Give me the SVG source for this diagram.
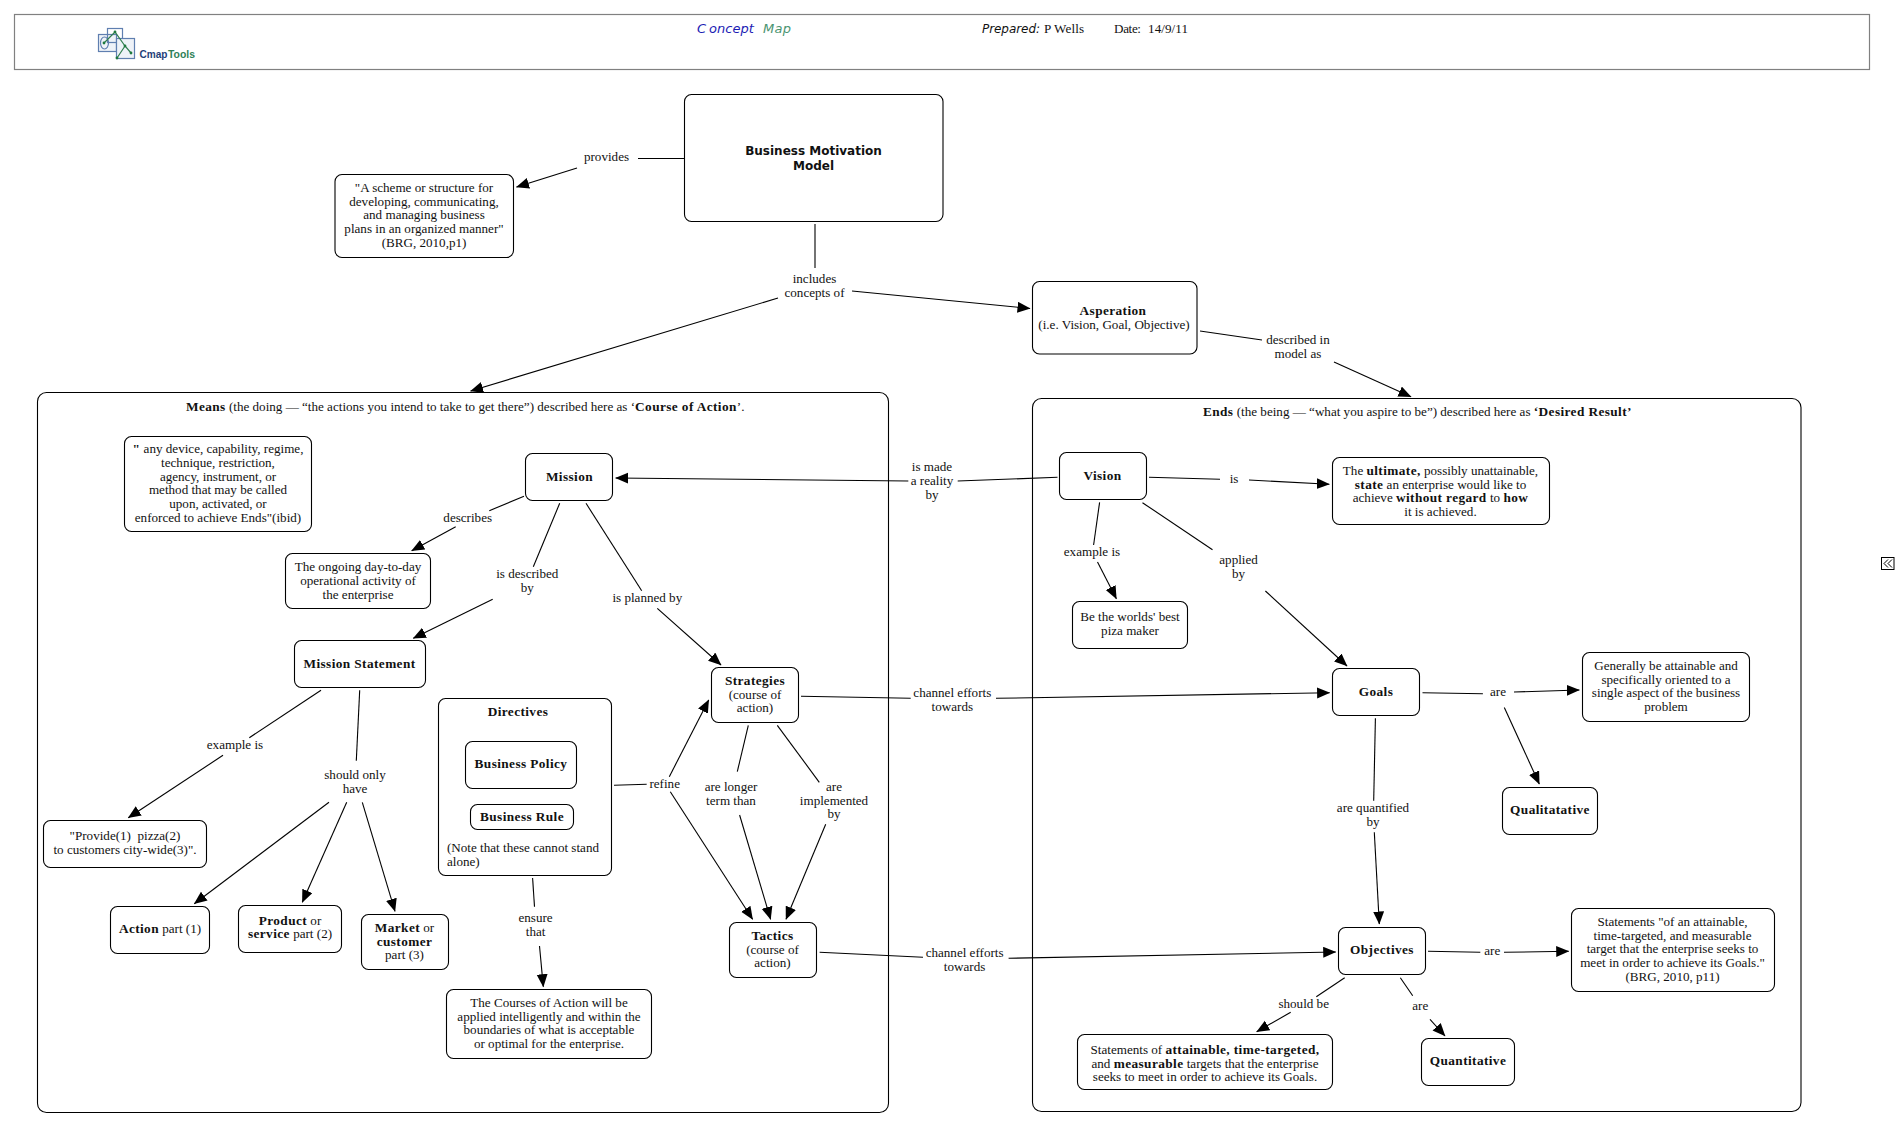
<svg xmlns="http://www.w3.org/2000/svg" width="1897" height="1129" viewBox="0 0 1897 1129">
<style>
text{font-family:"Liberation Serif","Times New Roman",serif;font-size:13.1px;fill:#111}
.m{text-anchor:middle}
.b,tspan.b{font-weight:700;font-size:13.3px;letter-spacing:.4px}
.n{fill:#fff;stroke:#000;stroke-width:1.1}
.s{font-family:"DejaVu Sans",Verdana,sans-serif}
#connectors line{stroke:#000;stroke-width:1.1;fill:none}
#connectors line.a{marker-end:url(#arrow)}
</style>
<defs>
<marker id="arrow" markerUnits="userSpaceOnUse" markerWidth="14" markerHeight="12" refX="12.5" refY="5.5" orient="auto">
<path d="M0,0L13,5.5L0,11z" fill="#000"/>
</marker>
</defs>
<rect width="1897" height="1129" fill="#fff"/>
<g id="header">
<rect x="14.5" y="14.5" width="1855" height="55" fill="#fff" stroke="#808080" stroke-width="1.2"/>
<g fill="none" stroke="#5f7fb0" stroke-width="1.2">
<rect x="98.5" y="34.5" width="18" height="17" fill="#eef2f8"/>
<rect x="107.5" y="28.5" width="15" height="14"/>
<rect x="116.5" y="38.5" width="18" height="20" fill="#eef2f8"/>
<ellipse cx="104.5" cy="43" rx="4" ry="6"/>
</g>
<path d="M104,43L115,32L125,46L131,53M125,46L117,58" fill="none" stroke="#2f7d4f" stroke-width="1.2"/>
<g fill="#1f7a3f"><circle cx="104" cy="43" r="1.4"/><circle cx="115" cy="32" r="1.4"/><circle cx="125" cy="46" r="1.4"/><circle cx="131" cy="53" r="1.4"/><circle cx="117" cy="58" r="1.4"/></g>
<text x="139.5" y="57.5" textLength="28" lengthAdjust="spacingAndGlyphs" style="font-family:'Liberation Sans',Arial,sans-serif;font-size:11.5px;font-weight:700;fill:#1f3f78">Cmap</text>
<text x="168" y="57.5" textLength="27" lengthAdjust="spacingAndGlyphs" style="font-family:'Liberation Sans',Arial,sans-serif;font-size:11.5px;font-weight:700;fill:#2f7f58">Tools</text>
<text class="s" x="697" y="33" style="font-size:13px;font-style:italic;fill:#1c1cb4">C<tspan dx="3">oncept</tspan></text>
<text class="s" x="763" y="33" style="font-size:13px;font-style:italic;fill:#4a9470" textLength="28">Map</text>
<text class="s" x="982" y="33" style="font-size:12px;font-style:italic" textLength="58">Prepared:</text>
<text x="1044" y="33" textLength="40">P Wells</text>
<text x="1114" y="33" textLength="27">Date:</text>
<text x="1148" y="33" textLength="40">14/9/11</text>
</g>
<g id="means-group"><rect class="n" x="37.5" y="392.5" width="851" height="720" rx="9"/>
<text x="186" y="411"><tspan class="b">Means</tspan> (the doing — “the actions you intend to take to get there”) described here as ‘<tspan class="b">Course of Action</tspan>’.</text></g>
<g id="ends-group"><rect class="n" x="1032.5" y="398.5" width="768.5" height="713" rx="9"/>
<text x="1203" y="416"><tspan class="b">Ends</tspan> (the being — “what you aspire to be”) described here as <tspan class="b">‘Desired Result’</tspan></text></g>
<g id="connectors">
<line x1="684" y1="158.5" x2="638" y2="158.5"/>
<line class="a" x1="577" y1="168" x2="516.5" y2="187"/>
<line x1="815" y1="224" x2="815" y2="268"/>
<line class="a" x1="778" y1="298" x2="470.6" y2="391"/>
<line class="a" x1="852" y1="291" x2="1030" y2="308.5"/>
<line x1="1200" y1="331" x2="1262" y2="340"/>
<line class="a" x1="1334" y1="362" x2="1411" y2="396.7"/>
<line x1="524" y1="496.3" x2="489.3" y2="510.7"/>
<line class="a" x1="455.7" y1="526.7" x2="411.7" y2="550.7"/>
<line x1="559.7" y1="503.3" x2="533.3" y2="566.7"/>
<line class="a" x1="492.7" y1="599.3" x2="413.3" y2="638.3"/>
<line x1="586" y1="503.3" x2="641.7" y2="590.7"/>
<line class="a" x1="657.3" y1="608.3" x2="721" y2="665"/>
<line x1="321" y1="690.3" x2="249.3" y2="737.7"/>
<line class="a" x1="223" y1="755.3" x2="128.3" y2="817.7"/>
<line x1="359.7" y1="690.3" x2="356.3" y2="760.7"/>
<line class="a" x1="329" y1="802.3" x2="194.3" y2="903.7"/>
<line class="a" x1="346.7" y1="802.3" x2="302.3" y2="902.3"/>
<line class="a" x1="362.3" y1="802.3" x2="395" y2="911.3"/>
<line x1="614" y1="785.3" x2="646.7" y2="784.3"/>
<line class="a" x1="669.3" y1="776.7" x2="708.7" y2="700"/>
<line class="a" x1="670.3" y1="791.7" x2="752.6" y2="919.3"/>
<line x1="748.3" y1="725.3" x2="737.3" y2="771.7"/>
<line class="a" x1="739.6" y1="815" x2="770.6" y2="919.3"/>
<line x1="777.3" y1="725.3" x2="819.3" y2="782.3"/>
<line class="a" x1="825.7" y1="824.3" x2="786" y2="919.3"/>
<line x1="532.6" y1="878" x2="534.5" y2="906.7"/>
<line class="a" x1="539.5" y1="946" x2="543.3" y2="986.7"/>
<line x1="819.6" y1="952.3" x2="923" y2="957.3"/>
<line class="a" x1="1008.6" y1="958.3" x2="1335.7" y2="952"/>
<line x1="801" y1="696.3" x2="910.7" y2="698.3"/>
<line class="a" x1="996" y1="698.3" x2="1329.6" y2="692.7"/>
<line x1="1057.5" y1="477.3" x2="957.7" y2="481"/>
<line class="a" x1="908.3" y1="481" x2="615.7" y2="478"/>
<line x1="1149" y1="477.3" x2="1220" y2="479.3"/>
<line class="a" x1="1249" y1="480" x2="1329.3" y2="484.3"/>
<line x1="1099.6" y1="502.3" x2="1093.6" y2="545"/>
<line class="a" x1="1097.5" y1="562" x2="1116.4" y2="598.7"/>
<line x1="1142.5" y1="502.7" x2="1212.5" y2="549.7"/>
<line class="a" x1="1265.4" y1="591" x2="1347" y2="666"/>
<line x1="1422.5" y1="692.7" x2="1482.9" y2="693.7"/>
<line class="a" x1="1514" y1="692" x2="1579.3" y2="690"/>
<line class="a" x1="1504.3" y1="707.4" x2="1539.3" y2="784"/>
<line x1="1375.4" y1="718.3" x2="1373.7" y2="800.7"/>
<line class="a" x1="1374.3" y1="832.3" x2="1379.3" y2="924"/>
<line x1="1428" y1="951.3" x2="1480.3" y2="952.3"/>
<line class="a" x1="1504" y1="952.3" x2="1568.7" y2="951.3"/>
<line x1="1344.7" y1="977.7" x2="1316.3" y2="996.7"/>
<line class="a" x1="1290.7" y1="1012.3" x2="1256.7" y2="1031.7"/>
<line x1="1400.3" y1="977.7" x2="1412.7" y2="995.7"/>
<line class="a" x1="1430" y1="1019.3" x2="1445" y2="1036"/>
</g>
<g id="bmm"><rect class="n" x="684.5" y="94.5" width="258.5" height="127" rx="7"/>
<text class="m s b" x="813.5" y="155" style="font-size:12px;letter-spacing:0">Business Motivation</text><text class="m s b" x="813.5" y="169.5" style="font-size:12px;letter-spacing:0">Model</text></g>
<g id="scheme"><rect class="n" x="335" y="174.5" width="178.5" height="83" rx="7"/>
<text class="m" x="424" y="192">"A scheme or structure for</text><text class="m" x="424" y="205.5">developing, communicating,</text><text class="m" x="424" y="219">and managing business</text><text class="m" x="424" y="233">plans in an organized manner"</text><text class="m" x="424" y="246.5">(BRG, 2010,p1)</text></g>
<g id="asperation"><rect class="n" x="1032.5" y="281.5" width="164.5" height="72.5" rx="7"/>
<text class="m b" x="1113" y="315">Asperation</text><text class="m" x="1114" y="328.7">(i.e. Vision, Goal, Objective)</text></g>
<g id="device"><rect class="n" x="124.5" y="436.5" width="187" height="95" rx="7"/>
<text class="m" x="218" y="453.3"><tspan class="b">"</tspan> any device, capability, regime,</text><text class="m" x="218" y="467">technique, restriction,</text><text class="m" x="218" y="480.7">agency, instrument, or</text><text class="m" x="218" y="494.3">method that may be called</text><text class="m" x="218" y="508">upon, activated, or</text><text class="m" x="218" y="521.7">enforced to achieve Ends"(ibid)</text></g>
<g id="mission"><rect class="n" x="525.5" y="453.5" width="87" height="47" rx="7"/><text class="m b" x="569.5" y="480.7">Mission</text></g>
<g id="ongoing"><rect class="n" x="285.5" y="553.5" width="145" height="55" rx="7"/>
<text class="m" x="358" y="571">The ongoing day-to-day</text><text class="m" x="358" y="585">operational activity of</text><text class="m" x="358" y="598.5">the enterprise</text></g>
<g id="mission-statement"><rect class="n" x="294.5" y="640.5" width="131" height="47" rx="7"/><text class="m b" x="359.5" y="668">Mission Statement</text></g>
<g id="provide"><rect class="n" x="43.5" y="820.5" width="163" height="47" rx="7"/>
<text class="m" x="125" y="840" style="white-space:pre">"Provide(1)  pizza(2)</text><text class="m" x="125" y="853.7">to customers city-wide(3)".</text></g>
<g id="action"><rect class="n" x="110.5" y="906.5" width="99" height="47" rx="7"/><text class="m" x="160" y="932.7"><tspan class="b">Action</tspan> part (1)</text></g>
<g id="product"><rect class="n" x="238.5" y="905.5" width="103" height="47" rx="7"/><text class="m" x="290" y="924.7"><tspan class="b">Product</tspan> or</text><text class="m" x="290" y="938.3"><tspan class="b">service</tspan> part (2)</text></g>
<g id="market"><rect class="n" x="361.5" y="914.5" width="87" height="55" rx="7"/><text class="m" x="404.5" y="931.7"><tspan class="b">Market</tspan> or</text><text class="m b" x="404.5" y="945.5">customer</text><text class="m" x="404.5" y="959">part (3)</text></g>
<g id="directives"><rect class="n" x="438.5" y="698.5" width="173" height="177" rx="7"/><text class="m b" x="518" y="716">Directives</text>
<text x="447" y="852.3">(Note that these cannot stand</text><text x="447" y="866">alone)</text></g>
<g id="business-policy"><rect class="n" x="465.5" y="741.5" width="111" height="47" rx="7"/><text class="m b" x="521" y="768">Business Policy</text></g>
<g id="business-rule"><rect class="n" x="470.5" y="804.5" width="103" height="25" rx="7"/><text class="m b" x="522" y="821">Business Rule</text></g>
<g id="strategies"><rect class="n" x="711.5" y="667.5" width="87" height="55" rx="7"/><text class="m b" x="755" y="685">Strategies</text><text class="m" x="755" y="699">(course of</text><text class="m" x="755" y="712.3">action)</text></g>
<g id="tactics"><rect class="n" x="729.5" y="922.5" width="87" height="55" rx="7"/><text class="m b" x="772.5" y="940">Tactics</text><text class="m" x="772.5" y="954">(course of</text><text class="m" x="772.5" y="967.3">action)</text></g>
<g id="courses"><rect class="n" x="446.5" y="989.5" width="205" height="69" rx="7"/>
<text class="m" x="549" y="1006.7">The Courses of Action will be</text><text class="m" x="549" y="1020.5">applied intelligently and within the</text><text class="m" x="549" y="1034">boundaries of what is acceptable</text><text class="m" x="549" y="1048">or optimal for the enterprise.</text></g>
<g id="vision"><rect class="n" x="1059.5" y="452.5" width="87" height="47" rx="7"/><text class="m b" x="1102.5" y="480">Vision</text></g>
<g id="ultimate"><rect class="n" x="1332.5" y="457.5" width="217" height="67" rx="7"/>
<text class="m" x="1440.5" y="475">The <tspan class="b">ultimate,</tspan> possibly unattainable,</text><text class="m" x="1440.5" y="489"><tspan class="b">state</tspan> an enterprise would like to</text><text class="m" x="1440.5" y="502.3">achieve <tspan class="b">without regard</tspan> to <tspan class="b">how</tspan></text><text class="m" x="1440.5" y="516">it is achieved.</text></g>
<g id="pizza"><rect class="n" x="1072.5" y="601.5" width="115" height="47" rx="7"/><text class="m" x="1130" y="620.7">Be the worlds' best</text><text class="m" x="1130" y="635">piza maker</text></g>
<g id="goals"><rect class="n" x="1332.5" y="668.5" width="87" height="47" rx="7"/><text class="m b" x="1376" y="696">Goals</text></g>
<g id="generally"><rect class="n" x="1582.5" y="652.5" width="167" height="69" rx="7"/>
<text class="m" x="1666" y="670">Generally be attainable and</text><text class="m" x="1666" y="683.7">specifically oriented to a</text><text class="m" x="1666" y="697.4">single aspect of the business</text><text class="m" x="1666" y="711">problem</text></g>
<g id="qualitative"><rect class="n" x="1502.5" y="787.5" width="95" height="47" rx="7"/><text class="m b" x="1550" y="814">Qualitatative</text></g>
<g id="objectives"><rect class="n" x="1338.5" y="927.5" width="87" height="47" rx="7"/><text class="m b" x="1382" y="954">Objectives</text></g>
<g id="statements-quote"><rect class="n" x="1571.5" y="908.5" width="203" height="83" rx="7"/>
<text class="m" x="1672.5" y="926">Statements "of an attainable,</text><text class="m" x="1672.5" y="939.7">time-targeted, and measurable</text><text class="m" x="1672.5" y="953.4">target that the enterprise seeks to</text><text class="m" x="1672.5" y="967">meet in order to achieve its Goals."</text><text class="m" x="1672.5" y="980.5">(BRG, 2010, p11)</text></g>
<g id="statements"><rect class="n" x="1077.5" y="1034.5" width="255" height="55" rx="7"/>
<text class="m" x="1205" y="1054">Statements of <tspan class="b">attainable, time-targeted,</tspan></text><text class="m" x="1205" y="1067.7">and <tspan class="b">measurable</tspan> targets that the enterprise</text><text class="m" x="1205" y="1081">seeks to meet in order to achieve its Goals.</text></g>
<g id="quantitative"><rect class="n" x="1421.5" y="1038.5" width="93" height="47" rx="7"/><text class="m b" x="1468" y="1065">Quantitative</text></g>
<g id="labels">
<g id="l-provides"><text class="m" x="606.5" y="161">provides</text></g>
<g id="l-includes"><text class="m" x="814.5" y="283">includes</text><text class="m" x="814.5" y="296.5">concepts of</text></g>
<g id="l-described-in"><text class="m" x="1298" y="344">described in</text><text class="m" x="1298" y="357.5">model as</text></g>
<g id="l-describes"><text class="m" x="467.7" y="522">describes</text></g>
<g id="l-is-described"><text class="m" x="527.3" y="577.7">is described</text><text class="m" x="527.3" y="591.7">by</text></g>
<g id="l-planned"><text class="m" x="647.3" y="602">is planned by</text></g>
<g id="l-example1"><text class="m" x="235" y="749">example is</text></g>
<g id="l-should-only"><text class="m" x="355" y="779">should only</text><text class="m" x="355" y="792.7">have</text></g>
<g id="l-refine"><text class="m" x="664.7" y="788">refine</text></g>
<g id="l-longer"><text class="m" x="731" y="791">are longer</text><text class="m" x="731" y="804.7">term than</text></g>
<g id="l-implemented"><text class="m" x="834" y="791">are</text><text class="m" x="834" y="804.7">implemented</text><text class="m" x="834" y="818">by</text></g>
<g id="l-ensure"><text class="m" x="535.6" y="922">ensure</text><text class="m" x="535.6" y="936">that</text></g>
<g id="l-channel2"><text class="m" x="964.6" y="957">channel efforts</text><text class="m" x="964.6" y="970.7">towards</text></g>
<g id="l-channel1"><text class="m" x="952.3" y="697">channel efforts</text><text class="m" x="952.3" y="710.7">towards</text></g>
<g id="l-reality"><text class="m" x="932" y="471">is made</text><text class="m" x="932" y="485">a reality</text><text class="m" x="932" y="498.7">by</text></g>
<g id="l-is"><text class="m" x="1234" y="483">is</text></g>
<g id="l-example2"><text class="m" x="1092" y="556">example is</text></g>
<g id="l-applied"><text class="m" x="1238.6" y="564">applied</text><text class="m" x="1238.6" y="577.7">by</text></g>
<g id="l-are1"><text class="m" x="1498" y="696">are</text></g>
<g id="l-quantified"><text class="m" x="1373" y="812">are quantified</text><text class="m" x="1373" y="825.7">by</text></g>
<g id="l-are2"><text class="m" x="1492.3" y="955">are</text></g>
<g id="l-should-be"><text class="m" x="1303.7" y="1008">should be</text></g>
<g id="l-are3"><text class="m" x="1420.3" y="1010">are</text></g>
</g>
<g id="collapse"><rect x="1881.5" y="557.5" width="12.5" height="12" fill="#fff" stroke="#000" stroke-width="1"/><path d="M1888,559.5L1884,563.5L1888,567.5M1892,559.5L1888,563.5L1892,567.5" fill="none" stroke="#000" stroke-width="1"/></g>
</svg>
